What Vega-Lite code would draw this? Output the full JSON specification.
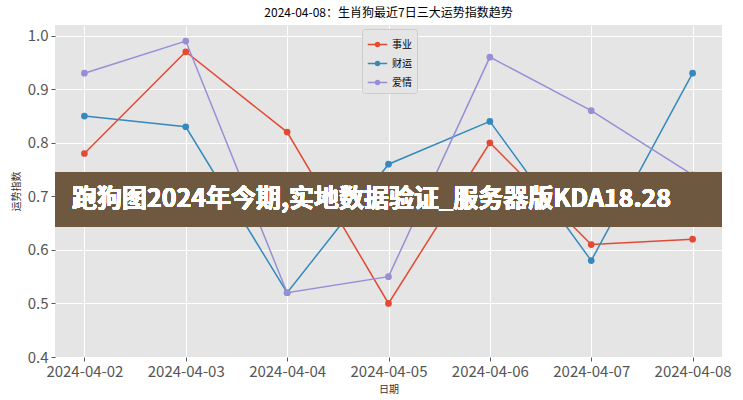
{
  "$schema": "https://vega.github.io/schema/vega-lite/v6.json",
  "width": 667,
  "height": 332,
  "autosize": {"type": "none"},
  "padding": {"left": 55, "top": 25, "right": 21, "bottom": 43},
  "background": "#ffffff",
  "title": {
    "text": "2024-04-08：生肖狗最近7日三大运势指数趋势",
    "font": "Noto Sans CJK SC",
    "fontSize": 12,
    "fontWeight": "normal",
    "color": "#000000",
    "anchor": "middle",
    "offset": 5
  },
  "config": {
    "view": {"fill": "#E5E5E5", "stroke": null},
    "font": "Noto Sans CJK SC",
    "axis": {
      "domain": false,
      "grid": true,
      "gridColor": "#ffffff",
      "gridWidth": 1,
      "tickColor": "#555555",
      "tickSize": 4,
      "labelColor": "#555555",
      "labelFontSize": 15,
      "labelFont": "Noto Sans CJK SC",
      "titleFont": "Noto Sans CJK SC",
      "titleFontSize": 10,
      "titleFontWeight": "normal",
      "titleColor": "#333333"
    }
  },
  "data": {
    "values": [
      {"date": "2024-04-02", "series": "事业", "value": 0.78},
      {"date": "2024-04-03", "series": "事业", "value": 0.97},
      {"date": "2024-04-04", "series": "事业", "value": 0.82},
      {"date": "2024-04-05", "series": "事业", "value": 0.50},
      {"date": "2024-04-06", "series": "事业", "value": 0.80},
      {"date": "2024-04-07", "series": "事业", "value": 0.61},
      {"date": "2024-04-08", "series": "事业", "value": 0.62},
      {"date": "2024-04-02", "series": "财运", "value": 0.85},
      {"date": "2024-04-03", "series": "财运", "value": 0.83},
      {"date": "2024-04-04", "series": "财运", "value": 0.52},
      {"date": "2024-04-05", "series": "财运", "value": 0.76},
      {"date": "2024-04-06", "series": "财运", "value": 0.84},
      {"date": "2024-04-07", "series": "财运", "value": 0.58},
      {"date": "2024-04-08", "series": "财运", "value": 0.93},
      {"date": "2024-04-02", "series": "爱情", "value": 0.93},
      {"date": "2024-04-03", "series": "爱情", "value": 0.99},
      {"date": "2024-04-04", "series": "爱情", "value": 0.52},
      {"date": "2024-04-05", "series": "爱情", "value": 0.55},
      {"date": "2024-04-06", "series": "爱情", "value": 0.96},
      {"date": "2024-04-07", "series": "爱情", "value": 0.86},
      {"date": "2024-04-08", "series": "爱情", "value": 0.74}
    ]
  },
  "layer": [
    {
      "mark": {"type": "line", "strokeWidth": 1.5, "point": {"filled": true, "size": 45, "opacity": 1}},
      "encoding": {
        "x": {
          "field": "date",
          "type": "ordinal",
          "scale": {"type": "point", "padding": 0.29},
          "axis": {"title": "日期", "labelAngle": 0, "labelPadding": 3, "titlePadding": 5}
        },
        "y": {
          "field": "value",
          "type": "quantitative",
          "scale": {"domain": [0.4, 1.02], "nice": false, "zero": false},
          "axis": {"title": "运势指数", "values": [0.4, 0.5, 0.6, 0.7, 0.8, 0.9, 1.0], "format": ".1f", "labelPadding": 3, "titlePadding": 6}
        },
        "color": {
          "field": "series",
          "type": "nominal",
          "scale": {"domain": ["事业", "财运", "爱情"], "range": ["#E24A33", "#348ABD", "#988ED5"]},
          "legend": {
            "orient": "none",
            "legendX": 307,
            "legendY": 4,
            "title": null,
            "fillColor": "#E5E5E5",
            "strokeColor": "#cccccc",
            "padding": 5,
            "cornerRadius": 3,
            "labelFontSize": 10,
            "labelColor": "#000000",
            "rowPadding": 3,
            "symbolType": "M-1,0L1,0M-0.2,0A0.2,0.2,0,1,1,0.2,0A0.2,0.2,0,1,1,-0.2,0Z",
            "symbolSize": 380,
            "symbolStrokeWidth": 1.5
          }
        }
      }
    },
    {
      "mark": {"type": "rect", "color": "#6f5840", "opacity": 0.76},
      "encoding": {
        "y": {"datum": 0.745, "type": "quantitative"},
        "y2": {"datum": 0.643}
      }
    },
    {
      "mark": {"type": "text", "text": "跑狗图2024年今期,实地数据验证_服务器版KDA18.28", "fontSize": 25, "fontWeight": "bold", "color": "#ffffff", "font": "Noto Sans CJK SC", "dx": -17, "baseline": "middle", "align": "center"},
      "encoding": {
        "y": {"datum": 0.695, "type": "quantitative"}
      }
    }
  ]
}
